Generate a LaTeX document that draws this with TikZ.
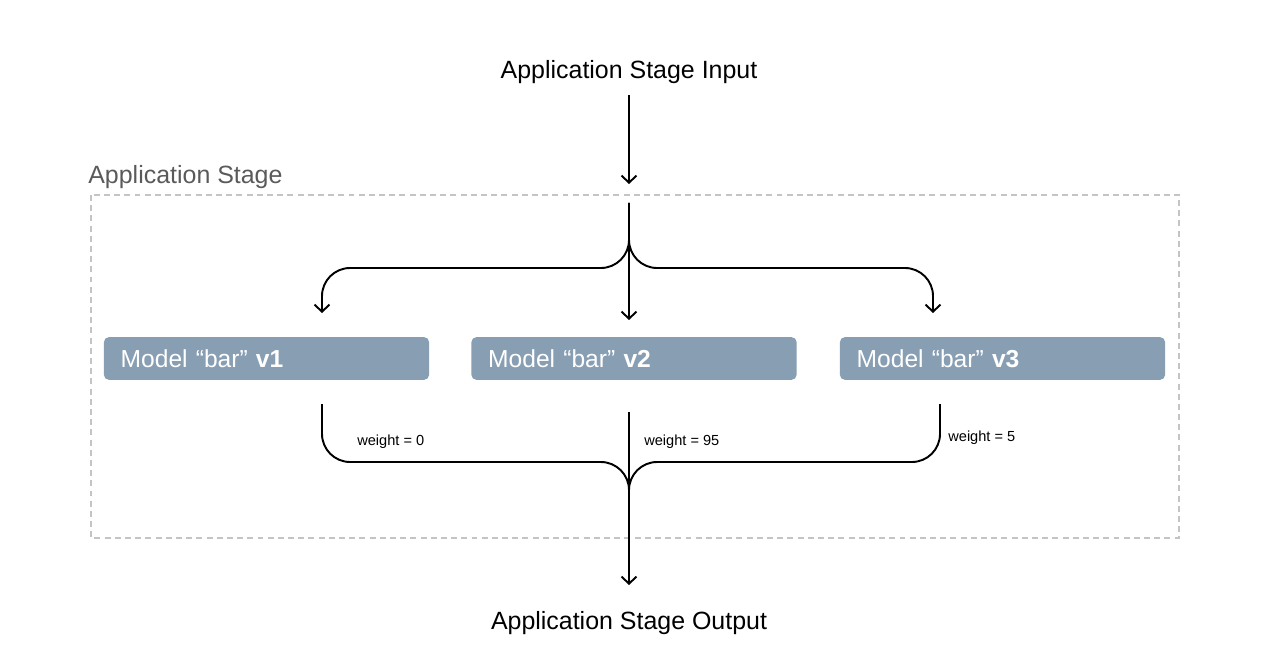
\documentclass[tikz,border=0pt]{standalone}
\usepackage{fontspec}
\setmainfont{Liberation Sans}
\usetikzlibrary{arrows.meta}
\definecolor{modelblue}{HTML}{879EB3}
\definecolor{stagegray}{HTML}{5A5A5A}
\definecolor{framegray}{HTML}{C4C4C4}
\tikzset{
  flow/.style={line width=1.1pt, -{Straight Barb[length=4pt,width=8.5pt,line width=1.1pt]}},
  merge/.style={line width=1.1pt, rounded corners=16pt},
  model/.style={fill=modelblue, text=white, rounded corners=3pt, minimum height=24.4pt,
    inner xsep=9.6pt, text width=166pt, align=left, font=\fontsize{14}{16}\selectfont},
  weight/.style={anchor=west, inner sep=0pt, font=\fontsize{8.3}{10}\selectfont},
  title/.style={font=\fontsize{14.2}{17}\selectfont}
}
\begin{document}
\begin{tikzpicture}[x=0.02cm, y=-0.02cm]
\useasboundingbox (0,0) rectangle (1264,672);

% stage frame
\draw [framegray, line width=0.8pt, dash pattern=on 3.4pt off 2.4pt] (91,195) rectangle (1179,538);
\node [title, text=stagegray, anchor=west, inner sep=0pt] (stage) at (88,177) {Application Stage};

\node [title] (input) at (629,72) {Application Stage Input};
\node [title] (output) at (629,623) {Application Stage Output};

% models
\foreach \x/\v in {266.5/1,634/2,1002.5/3}{
  \node [model] (m\v) at (\x,358.5) {Model “bar” \textbf{v\v}};
}

\coordinate (inend) at (629,184);
\coordinate (fork) at (629,203);
\coordinate (split) at (629,268);
\coordinate (m1in) at (322,313);
\coordinate (m2in) at (629,320);
\coordinate (m3in) at (933,313);
\coordinate (m1out) at (322,404);
\coordinate (m2out) at (629,412);
\coordinate (m3out) at (940,404);
\coordinate (join) at (629,462);
\coordinate (joined) at (629,492);
\coordinate (outend) at (629,585);

\draw [flow, shorten <=3pt] (input) -- (inend);
\draw [flow, rounded corners=16pt] (fork) |- (m1in |- split) -- (m1in);
\draw [flow, rounded corners=16pt] (fork) |- (m3in |- split) -- (m3in);
\draw [flow] (fork) -- (m2in);

\draw [merge] (m1out) |- (join) -- (joined);
\draw [merge] (m3out) |- (join) -- (joined);
\draw [flow] (m2out) -- (outend);

\node [weight] (w1) at (357,442) {weight = 0};
\node [weight] (w2) at (644,442) {weight = 95};
\node [weight] (w3) at (948,438) {weight = 5};

\end{tikzpicture}
\end{document}
